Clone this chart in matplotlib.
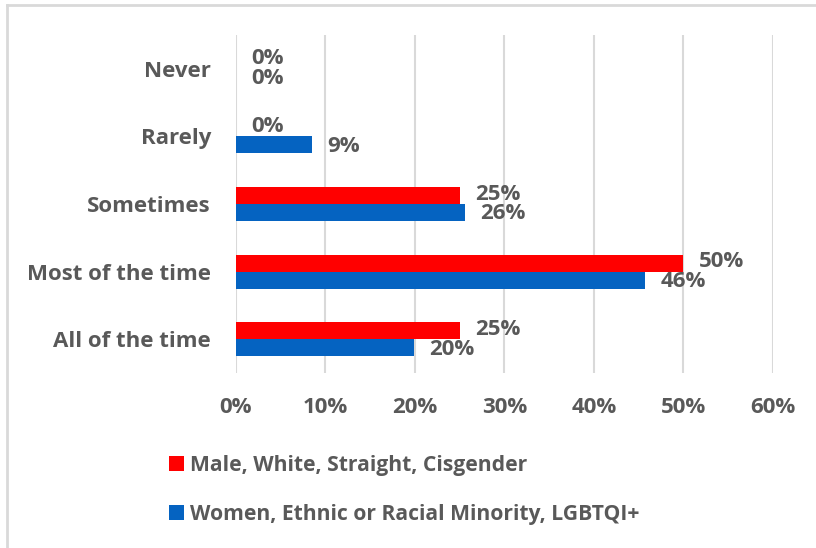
import numpy as np
import matplotlib.pyplot as plt
from matplotlib.lines import Line2D
from matplotlib.ticker import FuncFormatter


# =========================
# Data
# =========================

categories = ["All of the time", "Most of the time", "Sometimes", "Rarely", "Never"]
male_white = [25, 50, 25, 0, 0]
women_minority = [19.9, 45.7, 25.6, 8.5, 0]
male_labels = ["25%", "50%", "25%", "0%", "0%"]
women_labels = ["20%", "46%", "26%", "9%", "0%"]
series_names = ["Male, White, Straight, Cisgender",
                "Women, Ethnic or Racial Minority, LGBTQI+"]

red = "#FF0000"
blue = "#0563C1"
text_grey = "#595959"
grid_grey = "#D9D9D9"

plt.rcParams["font.family"] = ["Open Sans", "DejaVu Sans"]
plt.rcParams["font.weight"] = "bold"

fs = 16
fs_legend = 15.2


def pct(x, pos):
    return f"{x:.0f}%"


def main():
    fig = plt.figure(figsize=(8.16, 5.48), dpi=100)
    ax = fig.add_axes([0.2892, 0.3193, 0.6581, 0.6168])

    y = np.arange(len(categories))
    h = 0.25

    ax.barh(y + h / 2, male_white, height=h, color=red, label=series_names[0], zorder=3)
    ax.barh(y - h / 2, women_minority, height=h, color=blue, label=series_names[1], zorder=3)

    # value labels to the right of each bar
    for yi, v, lab in zip(y, male_white, male_labels):
        ax.annotate(lab, (v, yi + h / 2), xytext=(11, 1), textcoords="offset points",
                    va="center", ha="left", fontsize=fs, color=text_grey, fontweight="bold")
    for yi, v, lab in zip(y, women_minority, women_labels):
        ax.annotate(lab, (v, yi - h / 2), xytext=(11, -1), textcoords="offset points",
                    va="center", ha="left", fontsize=fs, color=text_grey, fontweight="bold")

    ax.set_xlim(0, 60)
    ax.set_ylim(-0.5, len(categories) - 0.5)
    ax.set_xticks(np.arange(0, 61, 10))
    ax.xaxis.set_major_formatter(FuncFormatter(pct))
    ax.set_yticks(y)
    ax.set_yticklabels(categories)

    ax.grid(axis="x", color=grid_grey, linewidth=1.5, zorder=0)
    for s in ax.spines.values():
        s.set_visible(False)
    ax.tick_params(length=0, labelsize=fs, colors=text_grey)
    ax.tick_params(axis="x", pad=17.5)
    ax.tick_params(axis="y", pad=18)

    fig.legend(loc="upper left", bbox_to_anchor=(0.207, 0.1697), frameon=False,
               fontsize=fs_legend, labelcolor=text_grey, handlelength=0.7, handleheight=0.7,
               handletextpad=0.3, labelspacing=1.32, borderpad=0, borderaxespad=0)

    # light border of the chart area (top and left)
    fig.add_artist(Line2D([7 / 816, 7 / 816], [0, 1 - 5 / 548], transform=fig.transFigure,
                          color=grid_grey, linewidth=2))
    fig.add_artist(Line2D([7 / 816, 1], [1 - 5 / 548, 1 - 5 / 548], transform=fig.transFigure,
                          color=grid_grey, linewidth=2))

    fig.savefig("out.png", dpi=100)


if __name__ == "__main__":
    main()
